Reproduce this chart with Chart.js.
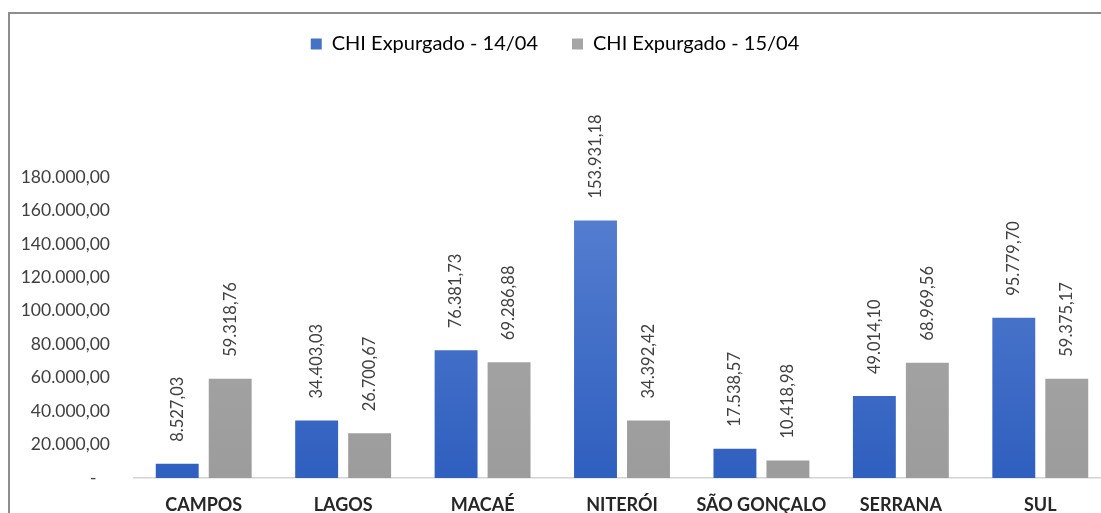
<!DOCTYPE html>
<html>
<head>
<meta charset="utf-8">
<script src="https://cdn.jsdelivr.net/npm/chart.js@4/dist/chart.umd.min.js"></script>
<style>
  html, body { margin: 0; padding: 0; background: #fff; overflow: hidden; }
  #wrap { position: relative; width: 1115px; height: 513px; }
  #frame {
    position: absolute; left: 8px; top: 12px; width: 1200px; height: 600px;
    border-left: 2px solid #8d8d8d; border-top: 2px solid #8d8d8d;
    pointer-events: none;
  }
</style>
</head>
<body>
<div id="wrap">
  <canvas id="chartCHI" width="1115" height="513"></canvas>
  <div id="frame"></div>
</div>
<script>
const regioes = ["CAMPOS", "LAGOS", "MACAÉ", "NITERÓI", "SÃO GONÇALO", "SERRANA", "SUL"];
const chi_14_04 = [8527.03, 34403.03, 76381.73, 153931.18, 17538.57, 49014.10, 95779.70];
const chi_15_04 = [59318.76, 26700.67, 69286.88, 34392.42, 10418.98, 68969.56, 59375.17];
const nomesSeries = ["CHI Expurgado - 14/04", "CHI Expurgado - 15/04"];

const FONTE = "Lato, 'Open Sans', sans-serif";

function formatBR(v) {
    const partes = v.toFixed(2).split(".");
    const inteiro = partes[0].replace(/\B(?=(\d{3})+(?!\d))/g, ".");
    return inteiro + "," + partes[1];
}

function gradiente(ctx, topo, base) {
    const area = ctx.chart.chartArea;
    if (!area) return base;
    const g = ctx.chart.ctx.createLinearGradient(0, area.top, 0, area.bottom);
    g.addColorStop(0, topo);
    g.addColorStop(1, base);
    return g;
}

// rótulos de valor girados acima das barras
const rotulosBarras = {
    id: "rotulosBarras",
    afterDatasetsDraw(chart) {
        const ctx = chart.ctx;
        ctx.save();
        ctx.font = "16.5px " + FONTE;
        ctx.fillStyle = "#404040";
        ctx.textAlign = "left";
        ctx.textBaseline = "middle";
        chart.data.datasets.forEach((ds, i) => {
            chart.getDatasetMeta(i).data.forEach((bar, j) => {
                ctx.save();
                ctx.translate(bar.x, bar.y - 22);
                ctx.rotate(-Math.PI / 2);
                ctx.fillText(formatBR(ds.data[j]), 0, 0);
                ctx.restore();
            });
        });
        ctx.restore();
    }
};

// espaço fixo entre legenda e área do gráfico
const alturaLegenda = {
    id: "alturaLegenda",
    beforeInit(chart) {
        const fitOriginal = chart.legend.fit;
        chart.legend.fit = function () {
            fitOriginal.bind(this)();
            this.height = 177;
        };
    }
};

document.addEventListener("DOMContentLoaded", () => {
    const el = document.getElementById("chartCHI");
    new Chart(el, {
        type: "bar",
        data: {
            labels: regioes,
            datasets: [{
                label: nomesSeries[0],
                data: chi_14_04,
                backgroundColor: c => gradiente(c, "#5a82d2", "#2f5fbf"),
                categoryPercentage: 0.76,
                barPercentage: 0.81
            }, {
                label: nomesSeries[1],
                data: chi_15_04,
                backgroundColor: c => gradiente(c, "#ababab", "#9c9c9c"),
                categoryPercentage: 0.76,
                barPercentage: 0.81
            }]
        },
        options: {
            responsive: false,
            animation: false,
            devicePixelRatio: 1,
            layout: { padding: { top: 0, right: 5, left: 0, bottom: 0 } },
            plugins: {
                legend: {
                    position: "top",
                    labels: {
                        color: "#404040",
                        font: { family: FONTE, size: 20 },
                        boxWidth: 11,
                        boxHeight: 11,
                        padding: 34,
                        generateLabels: chart => nomesSeries.map((n, i) => ({
                            text: n,
                            fillStyle: i === 0 ? "#4472c4" : "#a5a5a5",
                            strokeStyle: "transparent",
                            lineWidth: 0,
                            datasetIndex: i
                        }))
                    }
                },
                tooltip: { enabled: false }
            },
            scales: {
                x: {
                    grid: { display: false, drawTicks: false },
                    border: { display: true, color: "#d4d4d4", width: 1.5 },
                    ticks: {
                        color: "#262626",
                        font: { family: FONTE, size: 18, weight: "bold" },
                        padding: 16,
                        maxRotation: 0
                    },
                    afterFit: axis => { axis.height = 35; }
                },
                y: {
                    min: 0,
                    max: 180000,
                    grid: { display: false, drawTicks: false },
                    border: { display: false },
                    ticks: {
                        stepSize: 20000,
                        color: "#404040",
                        font: { family: FONTE, size: 17.5 },
                        padding: 24,
                        callback: v => v === 0 ? "-   " : formatBR(v)
                    },
                    afterFit: axis => { axis.width = 134; }
                }
            }
        },
        plugins: [rotulosBarras, alturaLegenda]
    });
});
</script>
</body>
</html>
